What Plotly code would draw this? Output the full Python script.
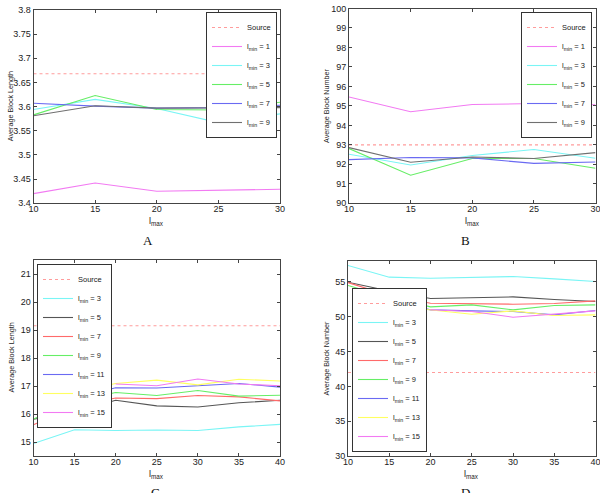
import plotly.graph_objects as go

# ---------------- data ----------------
lmax_AB = [10, 15, 20, 25, 30]
lmax_CD = [10, 15, 20, 25, 30, 35, 40]

A_source = [3.668, 3.668, 3.668, 3.668, 3.668]
A_lmin1 = [3.420, 3.442, 3.425, 3.427, 3.429]
A_lmin3 = [3.594, 3.615, 3.596, 3.567, 3.585]
A_lmin5 = [3.583, 3.623, 3.594, 3.593, 3.609]
A_lmin7 = [3.607, 3.601, 3.597, 3.598, 3.603]
A_lmin9 = [3.581, 3.602, 3.597, 3.597, 3.598]

B_source = [93.0, 93.0, 93.0, 93.0, 93.0]
B_lmin1 = [95.46, 94.70, 95.07, 95.12, 95.06]
B_lmin3 = [92.52, 91.97, 92.45, 92.76, 92.31]
B_lmin5 = [92.81, 91.44, 92.30, 92.30, 91.80]
B_lmin7 = [92.24, 92.35, 92.33, 92.05, 92.12]
B_lmin9 = [92.86, 92.11, 92.38, 92.30, 92.60]

C_source = [19.15, 19.15, 19.15, 19.15, 19.15, 19.15, 19.15]
C_lmin3 = [14.95, 15.44, 15.41, 15.43, 15.41, 15.54, 15.63]
C_lmin5 = [15.81, 16.08, 16.49, 16.29, 16.25, 16.40, 16.49]
C_lmin7 = [15.62, 16.28, 16.57, 16.55, 16.66, 16.61, 16.47]
C_lmin9 = [15.82, 16.46, 16.77, 16.66, 16.84, 16.64, 16.67]
C_lmin11 = [None, 16.57, 16.94, 16.93, 17.00, 17.09, 16.96]
C_lmin13 = [None, 16.79, 17.09, 17.21, 17.04, 17.24, 17.18]
C_lmin15 = [None, None, 17.07, 17.01, 17.25, 17.07, 17.01]

D_source = [42.0, 42.0, 42.0, 42.0, 42.0, 42.0, 42.0]
D_lmin3 = [57.36, 55.68, 55.53, 55.63, 55.77, 55.43, 55.06]
D_lmin5 = [54.96, 53.70, 52.61, 52.70, 52.85, 52.47, 52.18]
D_lmin7 = [54.90, 53.05, 51.94, 51.90, 51.80, 51.90, 52.27]
D_lmin9 = [54.48, 52.76, 51.41, 51.70, 50.98, 51.61, 51.70]
D_lmin11 = [None, 52.37, 50.98, 50.84, 50.75, 50.27, 50.89]
D_lmin13 = [None, 51.61, 51.03, 50.36, 50.84, 50.17, 50.27]
D_lmin15 = [None, None, 51.00, 50.75, 49.93, 50.40, 50.84]

panel_letters = ["A", "B", "C", "D"]
y_titles = ["Average Block Length", "Average Block Number",
            "Average Block Length", "Average Block Number"]
x_title = "l<sub>max</sub>"

# ---------------- styles ----------------
SRC = "#ff9c9c"
MAG = "#f27af2"
CYA = "#7af5f5"
GRN = "#66ee66"
BLU = "#6a6af2"
GRY = "#707070"
BLK = "#555555"
RED = "#ff6a6a"
YEL = "#ffff60"

FONT = "Liberation Sans, Arial, Helvetica, sans-serif"

fig = go.Figure()


def add(x, y, name, color, axis, legend, dash="solid"):
    fig.add_trace(go.Scatter(
        x=x, y=y, mode="lines", name=name,
        line=dict(color=color, width=1.1, dash=dash),
        xaxis="x" + axis, yaxis="y" + axis, legend=legend,
        hoverinfo="skip"))


def lm(v):
    return "l<sub>min</sub> = %d" % v


# Panel A
add(lmax_AB, A_source, "Source", SRC, "", "legend", "dot")
add(lmax_AB, A_lmin1, lm(1), MAG, "", "legend")
add(lmax_AB, A_lmin3, lm(3), CYA, "", "legend")
add(lmax_AB, A_lmin5, lm(5), GRN, "", "legend")
add(lmax_AB, A_lmin7, lm(7), BLU, "", "legend")
add(lmax_AB, A_lmin9, lm(9), GRY, "", "legend")

# Panel B
add(lmax_AB, B_source, "Source", SRC, "2", "legend2", "dot")
add(lmax_AB, B_lmin1, lm(1), MAG, "2", "legend2")
add(lmax_AB, B_lmin3, lm(3), CYA, "2", "legend2")
add(lmax_AB, B_lmin5, lm(5), GRN, "2", "legend2")
add(lmax_AB, B_lmin7, lm(7), BLU, "2", "legend2")
add(lmax_AB, B_lmin9, lm(9), GRY, "2", "legend2")

# Panel C
add(lmax_CD, C_source, "Source", SRC, "3", "legend3", "dot")
add(lmax_CD, C_lmin3, lm(3), CYA, "3", "legend3")
add(lmax_CD, C_lmin5, lm(5), BLK, "3", "legend3")
add(lmax_CD, C_lmin7, lm(7), RED, "3", "legend3")
add(lmax_CD, C_lmin9, lm(9), GRN, "3", "legend3")
add(lmax_CD, C_lmin11, lm(11), BLU, "3", "legend3")
add(lmax_CD, C_lmin13, lm(13), YEL, "3", "legend3")
add(lmax_CD, C_lmin15, lm(15), MAG, "3", "legend3")

# Panel D
add(lmax_CD, D_source, "Source", SRC, "4", "legend4", "dot")
add(lmax_CD, D_lmin3, lm(3), CYA, "4", "legend4")
add(lmax_CD, D_lmin5, lm(5), BLK, "4", "legend4")
add(lmax_CD, D_lmin7, lm(7), RED, "4", "legend4")
add(lmax_CD, D_lmin9, lm(9), GRN, "4", "legend4")
add(lmax_CD, D_lmin11, lm(11), BLU, "4", "legend4")
add(lmax_CD, D_lmin13, lm(13), YEL, "4", "legend4")
add(lmax_CD, D_lmin15, lm(15), MAG, "4", "legend4")

W, H = 600, 493


def dx(a, b):
    return [a / W, b / W]


def dy(top, bottom):
    return [(H - bottom) / H, (H - top) / H]


def px(x):
    return x / W


def py(y):
    return (H - y) / H


axis_common = dict(
    showline=True, linecolor="#444444", linewidth=1, mirror="ticks",
    ticks="inside", ticklen=3, tickcolor="#444444", showgrid=False,
    zeroline=False, automargin=False, ticklabeloverflow="allow",
    tickfont=dict(family=FONT, size=9, color="#222222"),
)
xax = dict(ticklabelstandoff=-3, **axis_common)

layout = dict(
    width=W, height=H, margin=dict(l=0, r=0, t=0, b=0, autoexpand=False),
    paper_bgcolor="white", plot_bgcolor="white",
    font=dict(family=FONT, size=9, color="#222222"),
    xaxis=dict(domain=dx(33.5, 280), range=[10, 30], tickvals=lmax_AB, anchor="y", **xax),
    yaxis=dict(domain=dy(10, 203.3), range=[3.4, 3.8], dtick=0.05, anchor="x", **axis_common),
    xaxis2=dict(domain=dx(349, 595.5), range=[10, 30], tickvals=lmax_AB, anchor="y2", **xax),
    yaxis2=dict(domain=dy(8.5, 203.3), range=[90, 100], dtick=1, anchor="x2", **axis_common),
    xaxis3=dict(domain=dx(33.5, 280), range=[10, 40], tickvals=lmax_CD, anchor="y3", **xax),
    yaxis3=dict(domain=dy(260, 456), range=[14.5, 21.5], dtick=1, anchor="x3", **axis_common),
    xaxis4=dict(domain=dx(348, 595.5), range=[10, 40], tickvals=lmax_CD, anchor="y4", **xax),
    yaxis4=dict(domain=dy(261, 456), range=[30, 58], dtick=5, anchor="x4", **axis_common),
)

leg_common = dict(bgcolor="white", bordercolor="#333333", borderwidth=1,
                  font=dict(family=FONT, size=7.5, color="#222222"),
                  tracegroupgap=0, itemwidth=30)
layout["legend"] = dict(x=px(277), y=py(12), xanchor="right", yanchor="top", **leg_common)
layout["legend2"] = dict(x=px(592), y=py(12), xanchor="right", yanchor="top", **leg_common)
layout["legend3"] = dict(x=px(37), y=py(264), xanchor="left", yanchor="top", **leg_common)
layout["legend4"] = dict(x=px(352), y=py(452), xanchor="left", yanchor="bottom", **leg_common)

fig.update_layout(**layout)

axis_ids = ["", "2", "3", "4"]
ytitle_shift = [-23, -22, -23, -22]
for ax, ytxt, ysh in zip(axis_ids, y_titles, ytitle_shift):
    # x-axis title below each panel
    fig.add_annotation(text=x_title, xref="x%s domain" % ax, yref="y%s domain" % ax,
                       x=0.5, y=0, xanchor="center", yanchor="top", yshift=-11,
                       showarrow=False, font=dict(family=FONT, size=9, color="#222222"))
    # y-axis title
    fig.add_annotation(text=ytxt, xref="x%s domain" % ax, yref="y%s domain" % ax,
                       x=0, y=0.5, xanchor="center", yanchor="middle", xshift=ysh,
                       textangle=-90, showarrow=False,
                       font=dict(family=FONT, size=7.2, color="#222222"))

# panel letters (the lower two are partly cut by the bottom edge, as in the original)
letter_pos = [(148, 231, "top"), (466, 231, "top"), (155, 483, "top"), (466, 483, "top")]
for letter, (lx, ly, anch) in zip(panel_letters, letter_pos):
    fig.add_annotation(text=letter, x=px(lx), y=py(ly), xref="paper", yref="paper",
                       showarrow=False, xanchor="center", yanchor=anch,
                       font=dict(family="Liberation Serif, Times New Roman, serif", size=13, color="#111111"))

# remove the default 8px page margin so the figure fills the window exactly
fig.write_html("out.html", config={"displayModeBar": False},
               post_script="document.body.style.margin='0px';")
